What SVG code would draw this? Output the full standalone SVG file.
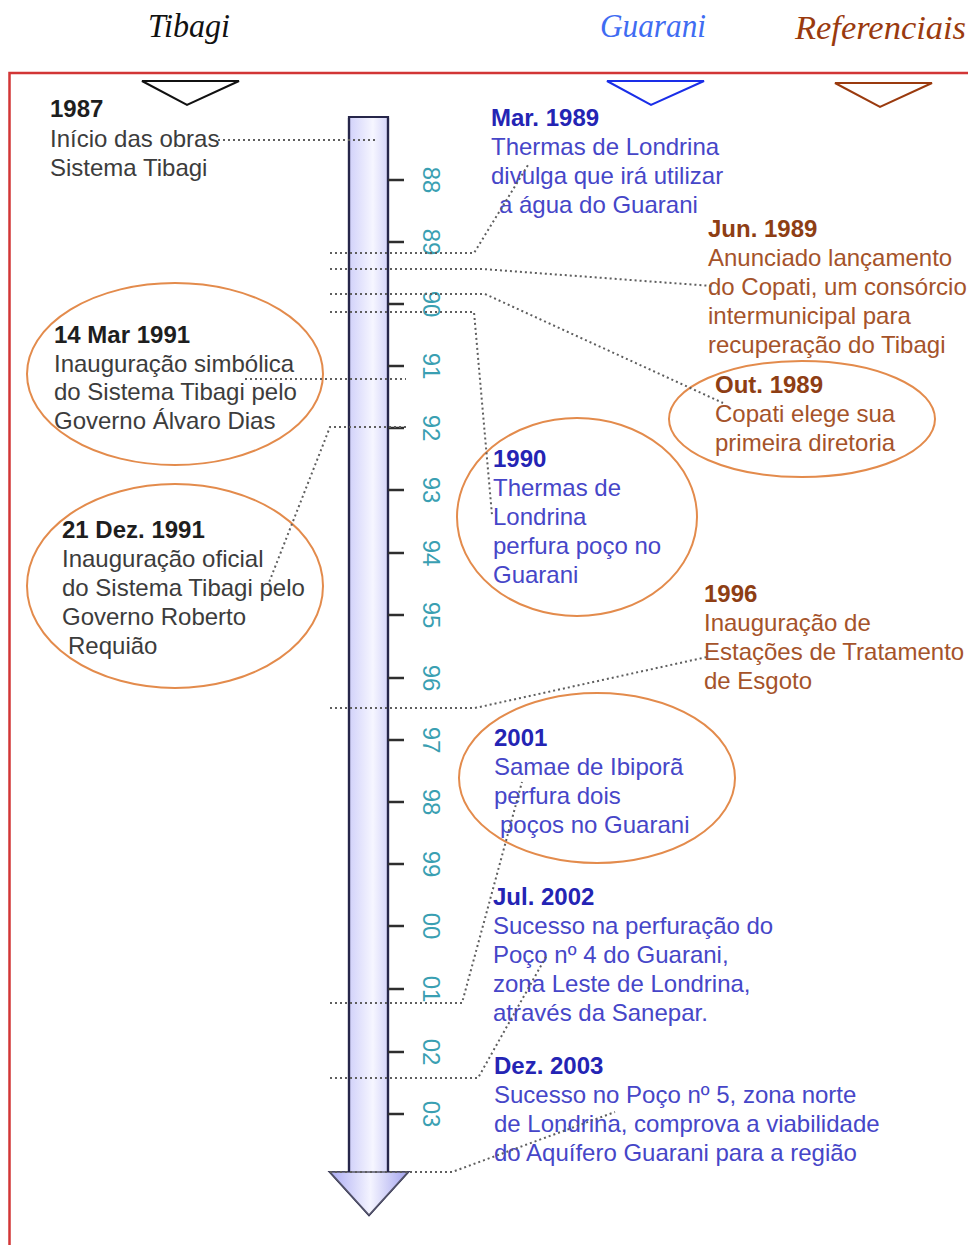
<svg xmlns="http://www.w3.org/2000/svg" width="968" height="1245" viewBox="0 0 968 1245">
  <defs>
    <linearGradient id="shaftFill" x1="0" y1="0" x2="1" y2="0">
      <stop offset="0" stop-color="#b4b4f6"/>
      <stop offset="0.55" stop-color="#f6f6ff"/>
      <stop offset="1" stop-color="#a8a8f0"/>
    </linearGradient>
    <linearGradient id="headFill" x1="330" y1="0" x2="408" y2="0" gradientUnits="userSpaceOnUse">
      <stop offset="0" stop-color="#adadf4"/>
      <stop offset="0.52" stop-color="#f4f4ff"/>
      <stop offset="1" stop-color="#a4a4ee"/>
    </linearGradient>
    <style>
      .hdr { font-family: "Liberation Serif", "Times New Roman", serif; font-style: italic; font-size: 33px; }
      .t { font-family: "Liberation Sans", Arial, sans-serif; font-size: 24px; }
      .b { font-weight: bold; }
      .blk { fill: #3c3c3c; }
      .blk.b { fill: #1e1e1e; }
      .blu { fill: #4646c8; }
      .blu.b { fill: #2424b4; }
      .brn { fill: #a5532a; }
      .brn.b { fill: #8e3e14; }
      .oval { fill: none; stroke: #e38b4c; stroke-width: 2; }
      .tick { stroke: #2e2e2e; stroke-width: 2.5; }
      .yr { font-family: "Liberation Sans", Arial, sans-serif; font-size: 24px; fill: #3a9fb2; text-anchor: middle; }
      .dot { fill: none; stroke: #5e5e5e; stroke-width: 2; stroke-dasharray: 2 3; }
    </style>
  </defs>

  <rect width="968" height="1245" fill="#ffffff"/>

  <!-- column headings -->
  <text class="hdr" x="148" y="37" fill="#111111" textLength="82" lengthAdjust="spacingAndGlyphs">Tibagi</text>
  <text class="hdr" x="600" y="37" fill="#3f6cf2" textLength="106" lengthAdjust="spacingAndGlyphs">Guarani</text>
  <text class="hdr" x="795" y="39" fill="#9a3a0e" textLength="171" lengthAdjust="spacingAndGlyphs">Referenciais</text>

  <!-- frame -->
  <path d="M9.5,1245 V73 H968" fill="none" stroke="#d23636" stroke-width="2.5"/>

  <!-- column markers -->
  <polygon points="142,81 239,81 187,105" fill="none" stroke="#111111" stroke-width="2"/>
  <polygon points="607,81 704,81 651,105" fill="none" stroke="#1a2ee8" stroke-width="2"/>
  <polygon points="835,83 932,83 880,107" fill="none" stroke="#9a3a0e" stroke-width="2"/>

  <!-- time axis -->
  <g id="axis">
    <path d="M349,117 H388 V1172 H408 L369,1215 L330,1172 H349 Z" fill="url(#shaftFill)" stroke="#26264a" stroke-width="2.2"/>
    <path d="M330,1172 H408 L369,1215 Z" fill="url(#headFill)" stroke="#55556a" stroke-width="1.5"/>
    <line x1="349" y1="1172" x2="349" y2="118" stroke="#26264a" stroke-width="2.2"/>
    <line x1="388" y1="1172" x2="388" y2="118" stroke="#26264a" stroke-width="2.2"/>
    <g>
      <line class="tick" x1="388" y1="180" x2="404" y2="180"/>
      <line class="tick" x1="388" y1="242" x2="404" y2="242"/>
      <line class="tick" x1="388" y1="304" x2="404" y2="304"/>
      <line class="tick" x1="388" y1="366" x2="404" y2="366"/>
      <line class="tick" x1="388" y1="428" x2="404" y2="428"/>
      <line class="tick" x1="388" y1="490" x2="404" y2="490"/>
      <line class="tick" x1="388" y1="553" x2="404" y2="553"/>
      <line class="tick" x1="388" y1="615" x2="404" y2="615"/>
      <line class="tick" x1="388" y1="678" x2="404" y2="678"/>
      <line class="tick" x1="388" y1="740" x2="404" y2="740"/>
      <line class="tick" x1="388" y1="802" x2="404" y2="802"/>
      <line class="tick" x1="388" y1="864" x2="404" y2="864"/>
      <line class="tick" x1="388" y1="926" x2="404" y2="926"/>
      <line class="tick" x1="388" y1="989" x2="404" y2="989"/>
      <line class="tick" x1="388" y1="1052" x2="404" y2="1052"/>
      <line class="tick" x1="388" y1="1114" x2="404" y2="1114"/>
    </g>
    <g>
      <text class="yr" transform="translate(423,180) rotate(90)">88</text>
      <text class="yr" transform="translate(423,242) rotate(90)">89</text>
      <text class="yr" transform="translate(423,304) rotate(90)">90</text>
      <text class="yr" transform="translate(423,366) rotate(90)">91</text>
      <text class="yr" transform="translate(423,428) rotate(90)">92</text>
      <text class="yr" transform="translate(423,490) rotate(90)">93</text>
      <text class="yr" transform="translate(423,553) rotate(90)">94</text>
      <text class="yr" transform="translate(423,615) rotate(90)">95</text>
      <text class="yr" transform="translate(423,678) rotate(90)">96</text>
      <text class="yr" transform="translate(423,740) rotate(90)">97</text>
      <text class="yr" transform="translate(423,802) rotate(90)">98</text>
      <text class="yr" transform="translate(423,864) rotate(90)">99</text>
      <text class="yr" transform="translate(423,926) rotate(90)">00</text>
      <text class="yr" transform="translate(423,989) rotate(90)">01</text>
      <text class="yr" transform="translate(423,1052) rotate(90)">02</text>
      <text class="yr" transform="translate(423,1114) rotate(90)">03</text>
    </g>
  </g>

  <!-- Tibagi events -->
  <g id="ev-1987">
    <text class="t b blk" x="50" y="117">1987</text>
    <text class="t blk" x="50" y="147">Início das obras</text>
    <text class="t blk" x="50" y="176">Sistema Tibagi</text>
  </g>
  <g id="ev-1991-mar">
    <ellipse class="oval" cx="175" cy="374" rx="148" ry="91"/>
    <text class="t b blk" x="54" y="343">14 Mar 1991</text>
    <text class="t blk" x="54" y="372">Inauguração simbólica</text>
    <text class="t blk" x="54" y="400">do Sistema Tibagi pelo</text>
    <text class="t blk" x="54" y="429">Governo Álvaro Dias</text>
  </g>
  <g id="ev-1991-dez">
    <ellipse class="oval" cx="175" cy="586" rx="148" ry="102"/>
    <text class="t b blk" x="62" y="538">21 Dez. 1991</text>
    <text class="t blk" x="62" y="567">Inauguração oficial</text>
    <text class="t blk" x="62" y="596">do Sistema Tibagi pelo</text>
    <text class="t blk" x="62" y="625">Governo Roberto</text>
    <text class="t blk" x="68" y="654">Requião</text>
  </g>

  <!-- Guarani events -->
  <g id="ev-1989-mar">
    <text class="t b blu" x="491" y="126">Mar. 1989</text>
    <text class="t blu" x="491" y="155">Thermas de Londrina</text>
    <text class="t blu" x="491" y="184">divulga que irá utilizar</text>
    <text class="t blu" x="499" y="213">a água do Guarani</text>
  </g>
  <g id="ev-1990">
    <ellipse class="oval" cx="577" cy="517" rx="120" ry="99"/>
    <text class="t b blu" x="493" y="467">1990</text>
    <text class="t blu" x="493" y="496">Thermas de</text>
    <text class="t blu" x="493" y="525">Londrina</text>
    <text class="t blu" x="493" y="554">perfura poço no</text>
    <text class="t blu" x="493" y="583">Guarani</text>
  </g>
  <g id="ev-2001">
    <ellipse class="oval" cx="597" cy="778" rx="138" ry="85"/>
    <text class="t b blu" x="494" y="746">2001</text>
    <text class="t blu" x="494" y="775">Samae de Ibiporã</text>
    <text class="t blu" x="494" y="804">perfura dois</text>
    <text class="t blu" x="500" y="833">poços no Guarani</text>
  </g>
  <g id="ev-2002">
    <text class="t b blu" x="493" y="905">Jul. 2002</text>
    <text class="t blu" x="493" y="934">Sucesso na perfuração do</text>
    <text class="t blu" x="493" y="963">Poço nº 4 do Guarani,</text>
    <text class="t blu" x="493" y="992">zona Leste de Londrina,</text>
    <text class="t blu" x="493" y="1021">através da Sanepar.</text>
  </g>
  <g id="ev-2003">
    <text class="t b blu" x="494" y="1074">Dez. 2003</text>
    <text class="t blu" x="494" y="1103">Sucesso no Poço nº 5, zona norte</text>
    <text class="t blu" x="494" y="1132">de Londrina, comprova a viabilidade</text>
    <text class="t blu" x="494" y="1161">do Aquífero Guarani para a região</text>
  </g>

  <!-- reference events -->
  <g id="ev-1989-jun">
    <text class="t b brn" x="708" y="237">Jun. 1989</text>
    <text class="t brn" x="708" y="266">Anunciado lançamento</text>
    <text class="t brn" x="708" y="295">do Copati, um consórcio</text>
    <text class="t brn" x="708" y="324">intermunicipal para</text>
    <text class="t brn" x="708" y="353">recuperação do Tibagi</text>
  </g>
  <g id="ev-1989-out">
    <ellipse class="oval" cx="802" cy="419" rx="133" ry="58"/>
    <text class="t b brn" x="715" y="393">Out. 1989</text>
    <text class="t brn" x="715" y="422">Copati elege sua</text>
    <text class="t brn" x="715" y="451">primeira diretoria</text>
  </g>
  <g id="ev-1996">
    <text class="t b brn" x="704" y="602">1996</text>
    <text class="t brn" x="704" y="631">Inauguração de</text>
    <text class="t brn" x="704" y="660">Estações de Tratamento</text>
    <text class="t brn" x="704" y="689">de Esgoto</text>
  </g>

  <!-- leader lines from the axis to each event -->
  <g id="connectors">
    <polyline class="dot" points="218,140 376,140"/>
    <polyline class="dot" points="330,253 474,253 528,165"/>
    <polyline class="dot" points="330,269 482,269 712,286"/>
    <polyline class="dot" points="330,294 485,294 723,403"/>
    <polyline class="dot" points="330,312 474,312 492,515"/>
    <polyline class="dot" points="245,379 406,379"/>
    <polyline class="dot" points="406,427 330,427 268,585"/>
    <polyline class="dot" points="330,708 475,708 707,657"/>
    <polyline class="dot" points="330,1003 462,1003 522,782"/>
    <polyline class="dot" points="330,1078 478,1078 547,955"/>
    <polyline class="dot" points="330,1172 452,1172 615,1112"/>
  </g>
</svg>
